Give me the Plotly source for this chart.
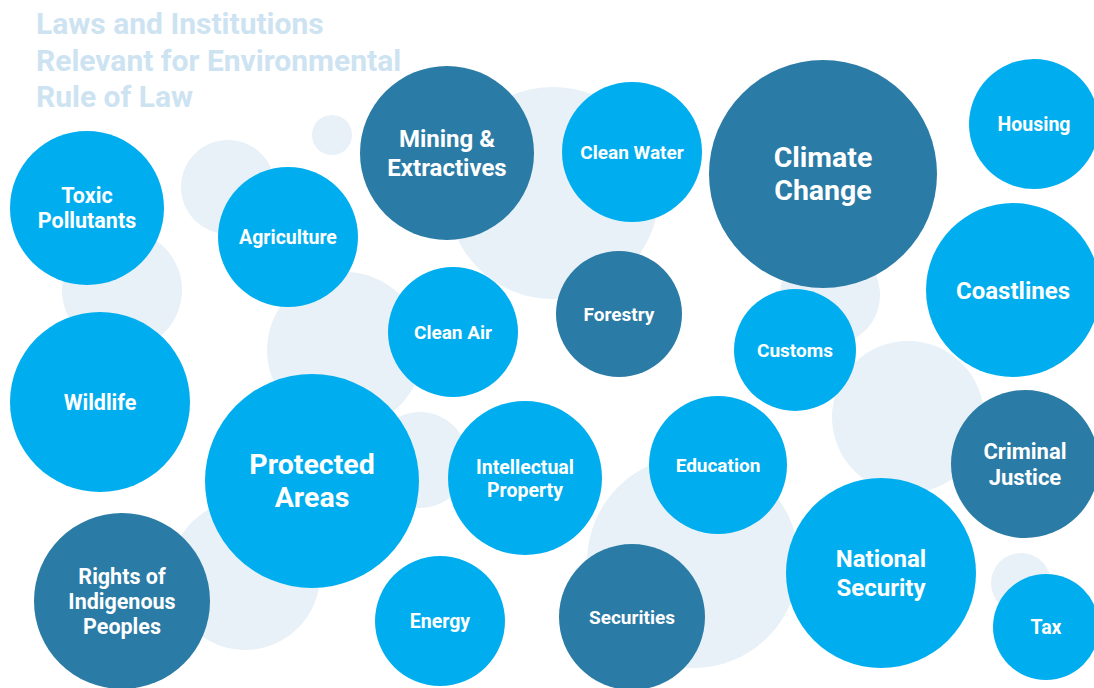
import plotly.graph_objects as go

# Foreground bubbles
labels = ["Toxic<br>Pollutants", "Agriculture", "Wildlife", "Mining &<br>Extractives", "Clean Water",
          "Climate<br>Change", "Housing", "Coastlines", "Clean Air", "Forestry", "Customs",
          "Protected<br>Areas", "Rights of<br>Indigenous<br>Peoples", "Intellectual<br>Property",
          "Education", "Criminal<br>Justice", "National<br>Security", "Tax", "Energy", "Securities"]
bx = [87, 288, 100, 447, 632, 823, 1034, 1013, 453, 619, 795, 312, 122, 525, 718, 1025, 881, 1046, 440, 632]
by = [208, 237, 402, 153, 152, 174, 124, 290, 332, 314, 350, 481, 601, 478, 465, 464, 573, 627, 621, 617]
br = [77, 70, 90, 87, 70, 114, 65, 87, 65, 63, 61, 107, 88, 77, 69, 74, 95, 53, 65, 73]
dark = [0, 0, 0, 1, 0, 1, 0, 0, 0, 1, 0, 0, 1, 0, 0, 1, 0, 0, 0, 1]
fsize = [21.5, 19.5, 21.5, 24, 19, 28.5, 19.5, 24, 19, 19, 19, 28.5, 21.5, 19.5, 19, 22, 24, 19.5, 19.5, 19]

# Background decorative bubbles
gx = [332, 228, 122, 345, 553, 830, 908, 1021, 693, 420, 245]
gy = [135, 187, 290, 350, 193, 295, 417, 583, 562, 460, 575]
gr = [20, 47, 60, 78, 106, 50, 76, 30, 106, 48, 75]

title_lines = ["Laws and Institutions", "Relevant for Environmental", "Rule of Law"]
title_y = [23, 60, 96]

LIGHT = "#00AEEF"
DARK = "#2A7BA5"
GREY = "#E8F1F7"
W, H = 1094, 688
LINE_H = 1.17   # line height in em for the bubble labels
TEXT_DY = 2.5   # small downward nudge so text sits optically centred

fig = go.Figure()
fig.add_trace(go.Scatter(
    x=gx, y=gy, mode="markers",
    marker=dict(size=[2 * r for r in gr], sizemode="diameter", color=GREY, line=dict(width=0), opacity=1),
    hoverinfo="skip", showlegend=False, cliponaxis=True))
fig.add_trace(go.Scatter(
    x=bx, y=by, mode="markers",
    marker=dict(size=[2 * r for r in br], sizemode="diameter",
                color=[DARK if d else LIGHT for d in dark], line=dict(width=0), opacity=1),
    hovertext=[l.replace("<br>", " ") for l in labels], hoverinfo="text",
    showlegend=False, cliponaxis=True))

# label lines, stacked around each bubble centre
tx, ty, tt, ts = [], [], [], []
for lab, cx, cy, fs in zip(labels, bx, by, fsize):
    lines = lab.split("<br>")
    n = len(lines)
    for i, ln in enumerate(lines):
        tx.append(cx)
        ty.append(cy + TEXT_DY + (i - (n - 1) / 2) * LINE_H * fs)
        tt.append(ln)
        ts.append(fs)
fig.add_trace(go.Scatter(
    x=tx, y=ty, mode="text", text=tt, textposition="middle center",
    textfont=dict(family="Roboto", size=ts, color="white", weight="bold"),
    hoverinfo="skip", showlegend=False, cliponaxis=False))

for line, yy in zip(title_lines, title_y):
    fig.add_annotation(
        x=34, y=yy, xref="x", yref="y", xanchor="left", yanchor="middle", align="left",
        text=line, showarrow=False,
        font=dict(family="Roboto", size=30, color="#CDE3F1", weight="bold"))

fig.update_xaxes(range=[0, W], visible=False, fixedrange=True)
fig.update_yaxes(range=[H, 0], visible=False, fixedrange=True)
fig.update_layout(width=W, height=H, margin=dict(l=0, r=0, t=0, b=0),
                  paper_bgcolor="white", plot_bgcolor="white")
fig.write_html("out.html", config={"displayModeBar": False},
               post_script="document.body.style.margin='0';document.body.style.overflow='hidden';")
